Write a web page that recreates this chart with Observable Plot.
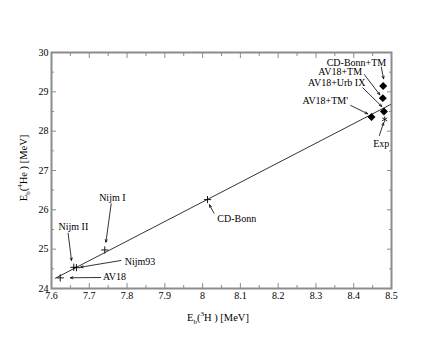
<!DOCTYPE html>
<html><head><meta charset="utf-8">
<script src="https://cdn.jsdelivr.net/npm/d3@7"></script>
<script src="https://cdn.jsdelivr.net/npm/@observablehq/plot@0.6"></script>
<style>body{margin:0;background:#fff} svg text{font-family:"Liberation Serif",serif;}</style>
</head><body><div id="chart"></div>
<script>
// ---- data ----
const xTicks = [7.6, 7.7, 7.8, 7.9, 8, 8.1, 8.2, 8.3, 8.4, 8.5];
const xMinor = [7.65, 7.75, 7.85, 7.95, 8.05, 8.15, 8.25, 8.35, 8.45];
const yTicks = [24, 25, 26, 27, 28, 29, 30];
const yMinor = [24.5, 25.5, 26.5, 27.5, 28.5, 29.5];

const nnNames = ["AV18", "Nijm II", "Nijm93", "Nijm I", "CD-Bonn"];
const nnH3 = [7.623, 7.659, 7.666, 7.741, 8.013];
const nnHe4 = [24.27, 24.54, 24.53, 24.98, 26.26];

const tbNames = ["AV18+TM'", "AV18+Urb IX", "AV18+TM", "CD-Bonn+TM"];
const tbH3 = [8.447, 8.480, 8.477, 8.478];
const tbHe4 = [28.36, 28.50, 28.84, 29.15];

const expH3 = [8.482];
const expHe4 = [28.30];

const lineH3 = [7.61, 8.5];
const lineHe4 = [24.26, 28.69];

// annotation labels (data coordinates)
const annText   = ["Nijm I", "Nijm II", "Nijm93", "AV18", "CD-Bonn", "CD-Bonn+TM", "AV18+TM", "AV18+Urb IX", "AV18+TM'", "Exp"];
const annX      = [7.761, 7.658, 7.794, 7.736, 8.039, 8.486, 8.422, 8.431, 8.385, 8.473];
const annY      = [26.31, 25.58, 24.68, 24.30, 25.78, 29.75, 29.52, 29.23, 28.78, 27.69];
const annAnchor = ["middle", "middle", "start", "start", "start", "end", "end", "end", "end", "middle"];
const arrX1 = [7.758, 7.644, 7.784, 7.730, 8.030, 8.473, 8.428, 8.424, 8.392, 8.468];
const arrY1 = [26.154, 25.406, 24.712, 24.280, 25.915, 29.627, 29.441, 29.103, 28.653, 27.890];
const arrX2 = [7.744, 7.653, 7.677, 7.650, 8.018, 8.479, 8.469, 8.474, 8.437, 8.479];
const arrY2 = [25.178, 24.712, 24.542, 24.272, 26.128, 29.332, 28.925, 28.628, 28.442, 28.213];

// ---- tables ----
const nn = nnNames.map((n, i) => ({n, x: nnH3[i], y: nnHe4[i]}));
const tb = tbNames.map((n, i) => ({n, x: tbH3[i], y: tbHe4[i]}));
const ex = expH3.map((x, i) => ({x, y: expHe4[i]}));
const ln = lineH3.map((x, i) => ({x, y: lineHe4[i]}));
const ann = annText.map((t, i) => ({t, x: annX[i], y: annY[i], a: annAnchor[i],
  x1: arrX1[i], y1: arrY1[i], x2: arrX2[i], y2: arrY2[i]}));

const plusSymbol = {draw(ctx, size) { const r = Math.sqrt(size / Math.PI);
  ctx.moveTo(-r, 0); ctx.lineTo(r, 0); ctx.moveTo(0, -r); ctx.lineTo(0, r); }};
const starSymbol = {draw(ctx, size) { const r = Math.sqrt(size / Math.PI);
  for (let k = 0; k < 3; k++) { const a = Math.PI / 2 + k * Math.PI / 3;
    ctx.moveTo(-r * Math.cos(a), -r * Math.sin(a)); ctx.lineTo(r * Math.cos(a), r * Math.sin(a)); } }};

const serif = "Liberation Serif";
const frameColor = "#8c8c8c";
const labelMarks = ["start", "middle", "end"].map(anchor =>
  Plot.text(ann.filter(d => d.a === anchor), {x: "x", y: "y", text: "t", textAnchor: anchor,
    fill: "#000", fontSize: 10, fontFamily: serif}));

const plot = Plot.plot({
  width: 440, height: 340,
  marginLeft: 51, marginRight: 49, marginTop: 52, marginBottom: 52,
  style: {fontFamily: serif, fontSize: "10px", background: "#fff", color: "#000"},
  x: {domain: [7.6, 8.5]},
  y: {domain: [24, 30]},
  marks: [
    Plot.axisX(xTicks, {anchor: "bottom", tickSize: -5, tickPadding: 8, stroke: frameColor, fill: "#000", tickFormat: d => String(d), label: null, fontFamily: serif}),
    Plot.axisX(xMinor, {anchor: "bottom", tickSize: -3, stroke: frameColor, tickFormat: () => "", label: null}),
    Plot.axisX(xTicks, {anchor: "top", tickSize: -5, stroke: frameColor, tickFormat: () => "", label: null}),
    Plot.axisX(xMinor, {anchor: "top", tickSize: -3, stroke: frameColor, tickFormat: () => "", label: null}),
    Plot.axisY(yTicks, {anchor: "left", tickSize: -5, tickPadding: 8, stroke: frameColor, fill: "#000", tickFormat: d => String(d), label: null, fontFamily: serif}),
    Plot.axisY(yMinor, {anchor: "left", tickSize: -3, stroke: frameColor, tickFormat: () => "", label: null}),
    Plot.axisY(yTicks, {anchor: "right", tickSize: -5, stroke: frameColor, tickFormat: () => "", label: null}),
    Plot.axisY(yMinor, {anchor: "right", tickSize: -3, stroke: frameColor, tickFormat: () => "", label: null}),
    Plot.line(ln, {x: "x", y: "y", stroke: "#000", strokeWidth: 0.8}),
    Plot.dot(nn, {x: "x", y: "y", symbol: plusSymbol, r: 3.6, stroke: "#000", strokeWidth: 0.9, fill: "none"}),
    Plot.dot(tb, {x: "x", y: "y", symbol: "diamond2", r: 3.6, fill: "#000", stroke: "none"}),
    Plot.dot(ex, {x: "x", y: "y", symbol: starSymbol, r: 3, stroke: "#000", strokeWidth: 0.8, fill: "none"}),
    Plot.arrow(ann, {x1: "x1", y1: "y1", x2: "x2", y2: "y2", stroke: "#000", strokeWidth: 0.8, headLength: 5, headAngle: 45}),
    ...labelMarks,
    Plot.frame({stroke: frameColor, strokeWidth: 2})
  ]
});
plot.setAttribute("font-family", serif);
document.getElementById("chart").appendChild(plot);

// axis titles with sub/superscripts
const svg = d3.select(plot);
const sx = plot.scale("x"), sy = plot.scale("y");
const cx = (sx.range[0] + sx.range[1]) / 2 - 3;
const cy = (sy.range[0] + sy.range[1]) / 2 - 2;
function title(sel, sup) {
  sel.append("tspan").text("E");
  sel.append("tspan").attr("dy", 3).attr("font-size", 7).text("b");
  sel.append("tspan").attr("dy", -3).text("(");
  sel.append("tspan").attr("dy", -5).attr("font-size", 7).text(sup.n);
  sel.append("tspan").attr("dy", 5).text(sup.rest);
}
const xt = svg.append("text").attr("x", cx).attr("y", 321).attr("text-anchor", "middle")
  .attr("font-size", 10.5).attr("font-family", serif).attr("fill", "#000");
title(xt, {n: "3", rest: "H ) [MeV]"});
const yt = svg.append("text").attr("transform", `translate(27,${cy}) rotate(-90)`).attr("text-anchor", "middle")
  .attr("font-size", 10.5).attr("font-family", serif).attr("fill", "#000");
title(yt, {n: "4", rest: "He ) [MeV]"});
</script>
</body></html>
